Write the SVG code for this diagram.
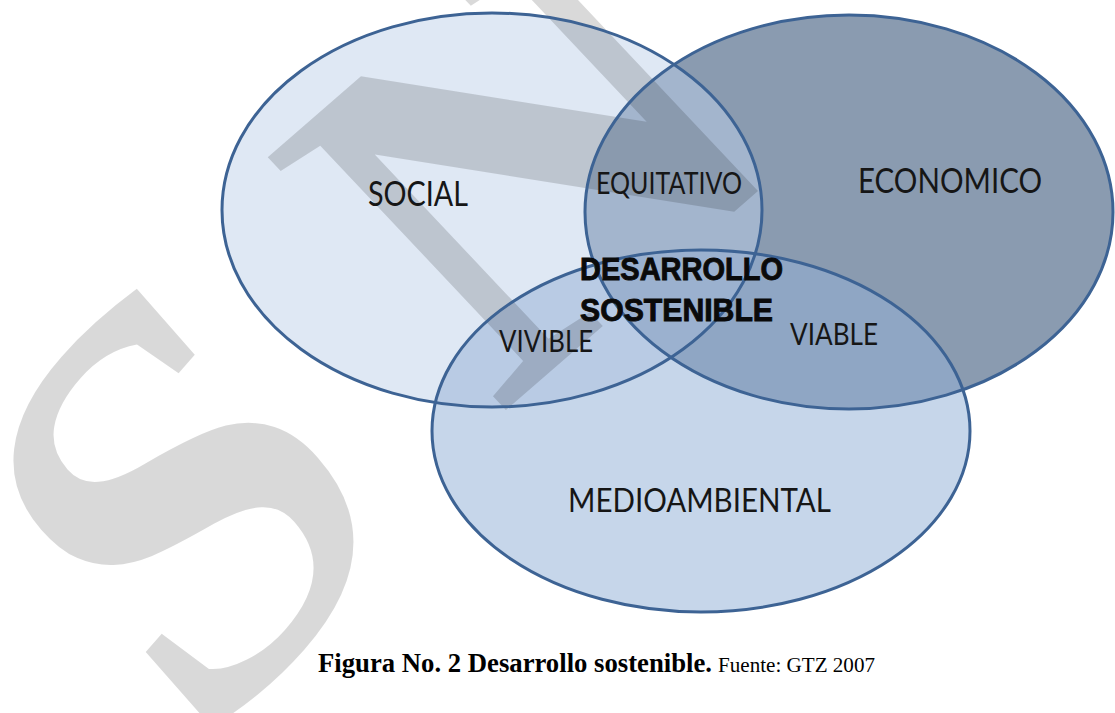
<svg xmlns="http://www.w3.org/2000/svg" width="1115" height="713" viewBox="0 0 1115 713">
<defs>
<style>
.lbl{font-family:Lato,"Liberation Sans",sans-serif;fill:#161616}
.core{font-family:"Liberation Sans",Arial,sans-serif;font-weight:bold;fill:#0a0a0a;stroke:#0a0a0a;stroke-width:0.9}
.wm{font-family:"Liberation Serif","Times New Roman",serif;font-weight:bold;fill:#000;fill-opacity:0.15}
.edge{fill:none;stroke:#3d6394;stroke-width:3}
.cap{font-family:"Liberation Serif","Times New Roman",serif;fill:#000}
</style>
<clipPath id="cS"><ellipse cx="492" cy="210" rx="270" ry="197"/></clipPath>
<clipPath id="cE"><ellipse cx="849" cy="212" rx="264" ry="197"/></clipPath>
</defs>
<rect width="1115" height="713" fill="#fff"/>
<g id="fills">
<ellipse cx="492" cy="210" rx="270" ry="197" fill="#dfe8f4"/>
<ellipse cx="849" cy="212" rx="264" ry="197" fill="#8a9bb0"/>
<ellipse cx="849" cy="212" rx="264" ry="197" fill="#a3b5cd" clip-path="url(#cS)"/>
<ellipse cx="701" cy="431" rx="269" ry="181" fill="#c6d6ea"/>
<ellipse cx="701" cy="431" rx="269" ry="181" fill="#b9cbe4" clip-path="url(#cS)"/>
<ellipse cx="701" cy="431" rx="269" ry="181" fill="#8fa6c4" clip-path="url(#cE)"/>
<g clip-path="url(#cS)"><ellipse cx="701" cy="431" rx="269" ry="181" fill="#9bb1cf" clip-path="url(#cE)"/></g>
</g>
<g id="watermark">
<text class="wm" font-size="560" transform="translate(200.6,759.5) scale(0.94,1.07) rotate(-45)">S</text>
<text class="wm" font-size="530" transform="translate(498,417) rotate(-41) skewX(2.3) scale(1.04,1)">N</text>
</g>
<g id="social">
<ellipse class="edge" cx="492" cy="210" rx="270" ry="197"/>
<text class="lbl" x="368" y="206" font-size="34" textLength="100" lengthAdjust="spacingAndGlyphs">SOCIAL</text>
</g>
<g id="economico">
<ellipse class="edge" cx="849" cy="212" rx="264" ry="197" stroke-width="4.5"/>
<text class="lbl" x="858" y="193" font-size="35" textLength="184" lengthAdjust="spacingAndGlyphs">ECONOMICO</text>
</g>
<g id="medioambiental">
<ellipse class="edge" cx="701" cy="431" rx="269" ry="181"/>
<text class="lbl" x="568" y="512" font-size="33" textLength="263" lengthAdjust="spacingAndGlyphs">MEDIOAMBIENTAL</text>
</g>
<g id="equitativo">
<text class="lbl" x="596" y="194" font-size="30" textLength="146" lengthAdjust="spacingAndGlyphs">EQUITATIVO</text>
</g>
<g id="vivible">
<text class="lbl" x="499" y="352" font-size="30" textLength="94" lengthAdjust="spacingAndGlyphs">VIVIBLE</text>
</g>
<g id="viable">
<text class="lbl" x="790" y="345" font-size="30" textLength="88" lengthAdjust="spacingAndGlyphs">VIABLE</text>
</g>
<g id="desarrollo-sostenible">
<text class="core" x="580" y="280" font-size="31" textLength="203" lengthAdjust="spacingAndGlyphs">DESARROLLO</text>
<text class="core" x="580" y="321" font-size="31" textLength="193" lengthAdjust="spacingAndGlyphs">SOSTENIBLE</text>
</g>
<g id="caption">
<text class="cap" x="318" y="672" font-size="26.5" font-weight="bold" textLength="394" lengthAdjust="spacingAndGlyphs">Figura No. 2 Desarrollo sostenible.</text>
<text class="cap" x="718" y="672" font-size="20" textLength="157" lengthAdjust="spacingAndGlyphs">Fuente: GTZ 2007</text>
</g>
</svg>
